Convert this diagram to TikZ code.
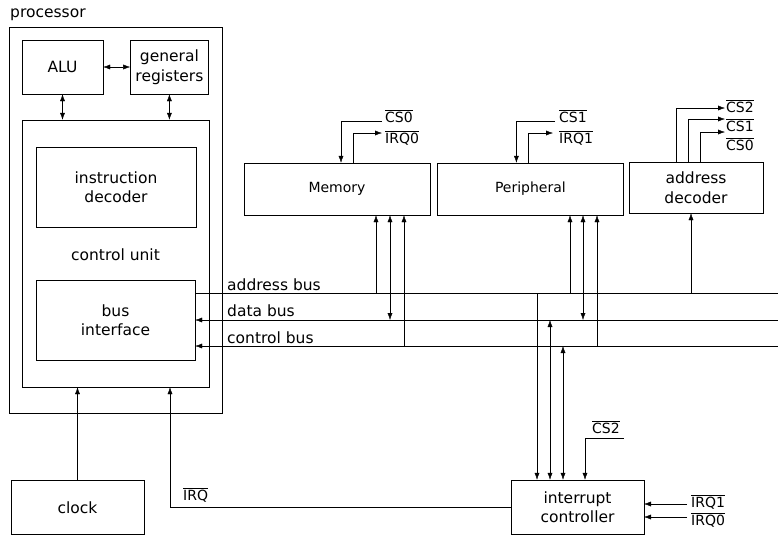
\documentclass[tikz,border=0pt]{standalone}
\usepackage{fontspec}
\setmainfont{DejaVu Sans}
\usetikzlibrary{arrows.meta,positioning}
\tikzset{
    x=1pt,y=-1pt,line width=1.1pt,
    >={Latex[length=7pt,width=5pt]},
    blk/.style ={draw, inner sep=0pt, align=center, font=\fontsize{15.5}{19.5}\selectfont},
    dev/.style ={draw, inner sep=0pt, align=center, font=\fontsize{14}{17}\selectfont},
    txt/.style ={inner sep=0pt, font=\fontsize{15.5}{19.5}\selectfont},
    sig/.style ={inner sep=0pt, anchor=west, font=\fontsize{14}{17}\selectfont}
}
\newcommand{\ovl}[1]{$\overline{\mbox{#1}}$}

\begin{document}
\begin{tikzpicture}
    \useasboundingbox (0,0) rectangle (778,539);
    % processor
    \node[blk,minimum width=213pt,minimum height=386pt] (proc) at (115.5,220) {};
    \node[txt,anchor=west] (proclbl) at (10,15) {processor};
    \node[blk,minimum width=81pt,minimum height=54pt] (alu) at (62.5,67) {ALU};
    \node[blk,minimum width=78pt,minimum height=54pt] (regs) [right=27pt of alu] {general\\registers};
    \node[blk,minimum width=187pt,minimum height=267pt] (cu) at (115.5,253.5) {};
    \node[blk,minimum width=160pt,minimum height=80pt] (idec) at (116,187) {instruction\\decoder};
    \node[txt] (culbl) at (115.5,255) {control unit};
    \node[blk,minimum width=159pt,minimum height=80pt] (bif) at (115.5,320) {bus\\interface};
    \path[<->] (alu) edge (regs);
    \path[<->] (alu) edge (alu |- cu.north);
    \path[<->] (regs) edge (regs |- cu.north);

    % clock
    \node[blk,minimum width=133pt,minimum height=54pt] (clk) at (77.5,507.5) {clock};
    \draw[->] (clk) -- (clk |- cu.south);

    % devices on the bus
    \node[dev,minimum width=186pt,minimum height=52pt] (mem) at (337,189) {Memory};
    \node[dev,minimum width=186pt,minimum height=52pt] (per) [right=7pt of mem] {Peripheral};
    \node[blk,minimum width=134pt,minimum height=51pt] (adec) at (696,187.5) {address\\decoder};
    \node[blk,minimum width=133pt,minimum height=54pt] (irc) at (577.5,507) {interrupt\\controller};

    % the three buses
    \coordinate (abR) at (778,293);
    \coordinate (dbR) at (778,320);
    \coordinate (cbR) at (778,346);
    \draw (abR) -- (abR -| bif.east);
    \draw[->] (dbR) -- (dbR -| bif.east);
    \draw[->] (cbR) -- (cbR -| bif.east);
    \node[txt,anchor=west] (ablbl) at (227,285) {address bus};
    \node[txt,anchor=west] (dblbl) at (227,311) {data bus};
    \node[txt,anchor=west] (cblbl) at (227,338) {control bus};

    % bus taps
    \coordinate (mA) at (376,293);
    \coordinate (mD) at (390,320);
    \coordinate (mC) at (404,346);
    \coordinate (pA) at (570,293);
    \coordinate (pD) at (583,320);
    \coordinate (pC) at (597,346);
    \coordinate (dA) at (691,293);
    \coordinate (iA) at (537,293);
    \coordinate (iD) at (550,320);
    \coordinate (iC) at (563,346);
    \draw[->] (mA) -- (mA |- mem.south);
    \draw[<->] (mD) -- (mD |- mem.south);
    \draw[->] (mC) -- (mC |- mem.south);
    \draw[->] (pA) -- (pA |- per.south);
    \draw[<->] (pD) -- (pD |- per.south);
    \draw[->] (pC) -- (pC |- per.south);
    \draw[->] (dA) -- (dA |- adec.south);
    \draw[->] (iA) -- (iA |- irc.north);
    \draw[<->] (iD) -- (iD |- irc.north);
    \draw[<->] (iC) -- (iC |- irc.north);

    % chip selects and interrupt requests
    \node[sig] (cs0m) at (385,116) {\ovl{CS0}};
    \node[sig] (irq0m) at (385,138) {\ovl{IRQ0}};
    \draw[->] ([xshift=-3,yshift=-5]cs0m.west) -| ([xshift=4]mem.north);
    \draw[->] ([xshift=16]mem.north) |- ([xshift=-3,yshift=5]irq0m.west);
    \node[sig] (cs1p) at (559,116) {\ovl{CS1}};
    \node[sig] (irq1p) at (559,138) {\ovl{IRQ1}};
    \draw[->] ([xshift=-4,yshift=-5]cs1p.west) -| ([xshift=-14]per.north);
    \draw[->] ([xshift=-2]per.north) |- ([xshift=-6,yshift=5]irq1p.west);
    \node[sig] (cs2d) at (726,106) {\ovl{CS2}};
    \node[sig] (cs1d) at (726,125) {\ovl{CS1}};
    \node[sig] (cs0d) at (726,144) {\ovl{CS0}};
    \draw[->] ([xshift=-20]adec.north) |- ([xshift=-1,yshift=-2]cs2d.west);
    \draw[->] ([xshift=-8]adec.north) |- ([xshift=-1,yshift=6]cs1d.west);
    \draw[->] ([xshift=4]adec.north) |- ([xshift=-1,yshift=12]cs0d.west);
    \node[sig] (cs2i) at (592,427) {\ovl{CS2}};
    \draw[->] ([xshift=4,yshift=-11]cs2i.east) -| ([xshift=7.5]irc.north);
    \node[sig] (irq1i) at (691,502) {\ovl{IRQ1}};
    \node[sig] (irq0i) at (691,520) {\ovl{IRQ0}};
    \draw[->] ([xshift=-4,yshift=-2]irq1i.west) -- ++(-43,0);
    \draw[->] ([xshift=-4,yshift=3]irq0i.west) -- ++(-43,0);
    \node[sig] (irqc) at (183,495) {\ovl{IRQ}};
    \draw[->] (irc.west) -| ([xshift=54.5]cu.south);
\end{tikzpicture}
\end{document}
